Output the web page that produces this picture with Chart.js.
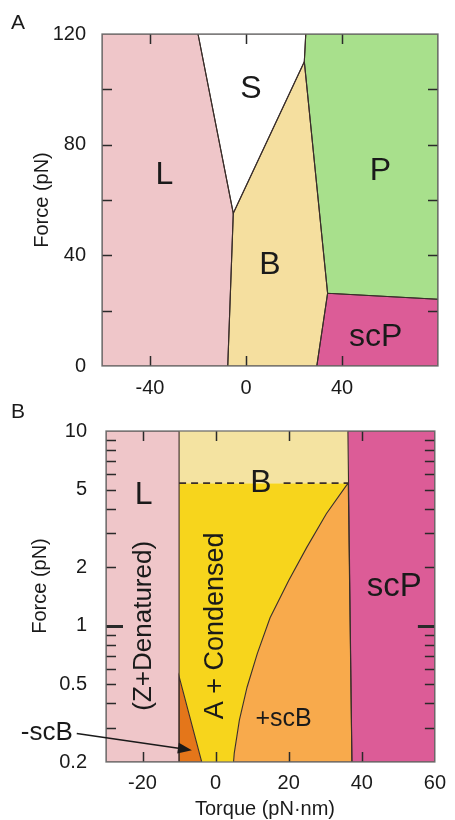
<!DOCTYPE html>
<html>
<head>
<meta charset="utf-8">
<script src="https://cdn.jsdelivr.net/npm/chart.js@4/dist/chart.umd.min.js"></script>
<style>
  html, body { margin: 0; padding: 0; background: #ffffff; }
  #wrap { position: relative; width: 455px; height: 820px; }
  #cA { position: absolute; left: 0; top: 0; }
  #cB { position: absolute; left: 0; top: 400px; }
</style>
</head>
<body>
<div id="wrap">
  <canvas id="cA" width="455" height="400"></canvas>
  <canvas id="cB" width="455" height="420"></canvas>
</div>
<script>
// ---------------- DATA : panel A (Force vs Torque, linear) ----------------
const torqueTicksA = [-40, 0, 40];
const forceTicksA = [0, 40, 80, 120];
const forceMarksA = [20, 40, 60, 80, 100];

const regionA_L   = [[-60, 0], [-60, 120], [-20, 120], [-5.3, 55.2], [-7.6, 0]];
const regionA_S   = [[-20, 120], [24.9, 120], [24.3, 110], [-5.3, 55.2]];
const regionA_B   = [[-7.6, 0], [-5.3, 55.2], [24.3, 110], [34, 26.3], [29.5, 0]];
const regionA_P   = [[24.9, 120], [80, 120], [80, 24.1], [34, 26.3], [24.3, 110]];
const regionA_scP = [[29.5, 0], [34, 26.3], [80, 24.1], [80, 0]];

const labelTextA = ['L', 'S', 'P', 'B', 'scP'];
const labelAtA   = [[-34, 69], [2, 100], [56, 70.5], [10, 36.5], [54, 10.5]];

// ---------------- DATA : panel B (Force vs Torque, log force) ----------------
const torqueTicksB = [-20, 0, 20, 40, 60];
const torqueMarksB = [-20, 0, 20, 40];
const forceTicksB = [0.2, 0.5, 1, 2, 5, 10];
const forceMarksB = [0.3, 0.4, 0.5, 0.6, 0.7, 0.8, 0.9, 1, 2, 3, 4, 5, 6, 7, 8, 9];

const regionB_L      = [[-30, 0.2], [-30, 10], [-10, 10], [-10, 0.2]];
const regionB_B      = [[-10, 5.4], [-10, 10], [36.2, 10], [36.3, 5.4]];
const boundaryPlusScB = [[4.9, 0.2], [5.1, 0.222], [6.5, 0.328], [8.6, 0.484], [11.4, 0.72],
                         [14.9, 1.10], [20.0, 1.71], [24.9, 2.52], [30.3, 3.76], [35.7, 5.23], [36.3, 5.4]];
const regionB_minusScB = [[-10, 0.2], [-10, 0.55], [-3.8, 0.2]];
const regionB_scP    = [[36.2, 10], [60, 10], [60, 0.2], [37.3, 0.2]];
const scPfootB       = [37.3, 0.2];
const dashLeftB      = [[-10, 5.4], [7.8, 5.4]];
const dashRightB     = [[18.6, 5.4], [36.3, 5.4]];

const labelTextB = ['L', 'B', 'scP', '+scB', '(Z+Denatured)', 'A + Condensed', '-scB'];
const labelAtB   = [[-19.7, 4.7], [12.4, 5.4], [48.9, 1.59], [18.6, 0.332], [-19.7, 1.0], [0, 1.0], [-46.2, 0.281]];
const arrowB     = [[-38, 0.28], [-6.5, 0.23]];

// ---------------- helpers ----------------
const FONT = "'Liberation Sans', Arial, Helvetica, sans-serif";
const pts = arr => arr.map(p => ({ x: p[0], y: p[1] }));
const closed = arr => pts(arr.concat([arr[0]]));

function fillSet(arr, color) {
  return { data: closed(arr), showLine: true, fill: 'shape', backgroundColor: color,
           borderWidth: 0, borderColor: 'rgba(0,0,0,0)', pointRadius: 0, order: 5 };
}
function lineSet(arr, close, dash) {
  return { data: close ? closed(arr) : pts(arr), showLine: true, fill: false,
           borderColor: '#3a2e2a', borderWidth: dash ? 1.6 : 1.1, borderDash: dash ? [7, 5] : [],
           pointRadius: 0, order: 1 };
}

const decor = {
  id: 'decor',
  afterDatasetsDraw(chart, args, o) {
    const { ctx, chartArea: a, scales } = chart;
    const x = scales.x, y = scales.y;
    ctx.save();
    // tick marks inside, on all four sides
    ctx.strokeStyle = '#2a2a2a';
    ctx.lineWidth = 1.5;
    o.xMarks.forEach(v => {
      const px = Math.round(x.getPixelForValue(v)) + 0.5;
      ctx.beginPath();
      ctx.moveTo(px, a.bottom); ctx.lineTo(px, a.bottom - 10);
      ctx.moveTo(px, a.top); ctx.lineTo(px, a.top + 10);
      ctx.stroke();
    });
    o.yMarks.forEach(v => {
      const py = Math.round(y.getPixelForValue(v)) + 0.5;
      const bold = o.boldY && v === o.boldY;
      ctx.lineWidth = bold ? 3 : 1.5;
      const len = bold ? 17 : 10;
      ctx.beginPath();
      ctx.moveTo(a.left, py); ctx.lineTo(a.left + len, py);
      ctx.moveTo(a.right, py); ctx.lineTo(a.right - len, py);
      ctx.stroke();
    });
    // frame
    ctx.lineWidth = 1.3;
    ctx.strokeStyle = '#707070';
    ctx.strokeRect(a.left, a.top, a.right - a.left, a.bottom - a.top);

    // arrow
    if (o.arrow) {
      const x0 = x.getPixelForValue(o.arrow[0][0]), y0 = y.getPixelForValue(o.arrow[0][1]);
      const x1 = x.getPixelForValue(o.arrow[1][0]), y1 = y.getPixelForValue(o.arrow[1][1]);
      const ang = Math.atan2(y1 - y0, x1 - x0);
      ctx.strokeStyle = '#1a1a1a'; ctx.fillStyle = '#1a1a1a'; ctx.lineWidth = 1.6;
      ctx.beginPath(); ctx.moveTo(x0, y0);
      ctx.lineTo(x1 - 10 * Math.cos(ang), y1 - 10 * Math.sin(ang)); ctx.stroke();
      ctx.beginPath();
      ctx.moveTo(x1, y1);
      ctx.lineTo(x1 - 14 * Math.cos(ang) + 5.5 * Math.sin(ang), y1 - 14 * Math.sin(ang) - 5.5 * Math.cos(ang));
      ctx.lineTo(x1 - 14 * Math.cos(ang) - 5.5 * Math.sin(ang), y1 - 14 * Math.sin(ang) + 5.5 * Math.cos(ang));
      ctx.closePath(); ctx.fill();
    }

    // region labels
    ctx.fillStyle = '#1a1a1a';
    ctx.textBaseline = 'middle';
    o.texts.forEach((t, i) => {
      const px = x.getPixelForValue(o.at[i][0]);
      const py = y.getPixelForValue(o.at[i][1]);
      const st = o.styles[i];
      ctx.font = st.size + 'px ' + FONT;
      ctx.save();
      ctx.translate(px, py);
      if (st.rot) ctx.rotate(-Math.PI / 2);
      ctx.textAlign = 'center';
      ctx.fillText(t, 0, 0);
      ctx.restore();
    });

    // axis titles and panel letter
    ctx.font = '20px ' + FONT;
    ctx.textAlign = 'center';
    ctx.save();
    ctx.translate(o.yTitleAt[0], o.yTitleAt[1]);
    ctx.rotate(-Math.PI / 2);
    ctx.fillText('Force (pN)', 0, 0);
    ctx.restore();
    if (o.xTitleAt) ctx.fillText('Torque (pN\u00B7nm)', o.xTitleAt[0], o.xTitleAt[1]);
    ctx.font = '21px ' + FONT;
    ctx.fillText(o.panel, o.panelAt[0], o.panelAt[1]);
    ctx.restore();
  }
};

function baseOptions(cfg) {
  return {
    responsive: false, animation: false, devicePixelRatio: 1,
    layout: { padding: { left: 0, top: cfg.top, right: cfg.right, bottom: 0 } },
    plugins: { legend: { display: false }, tooltip: { enabled: false }, decor: cfg.decor },
    scales: {
      x: {
        type: 'linear', min: cfg.xMin, max: cfg.xMax,
        grid: { display: false, drawTicks: false }, border: { display: false },
        afterBuildTicks: s => { s.ticks = cfg.xTicks.map(v => ({ value: v })); },
        afterFit: s => { s.height = cfg.xHeight; },
        ticks: { padding: cfg.xPad, color: '#1a1a1a', font: { size: 20, family: FONT }, maxRotation: 0,
                 callback: v => String(v) }
      },
      y: {
        type: cfg.yType, min: cfg.yMin, max: cfg.yMax,
        grid: { display: false, drawTicks: false }, border: { display: false },
        afterBuildTicks: s => { s.ticks = cfg.yTicks.map(v => ({ value: v })); },
        afterFit: s => { s.width = cfg.yWidth; },
        ticks: { padding: cfg.yPad, color: '#1a1a1a', font: { size: 20, family: FONT },
                 callback: v => String(v) }
      }
    }
  };
}

// ---------------- Panel A ----------------
const dsA = [
  fillSet(regionA_L, '#efc6c9'),
  fillSet(regionA_S, '#ffffff'),
  fillSet(regionA_B, '#f5df9f'),
  fillSet(regionA_P, '#a8e08c'),
  fillSet(regionA_scP, '#dc5c97'),
  lineSet(regionA_L, true), lineSet(regionA_S, true), lineSet(regionA_B, true),
  lineSet(regionA_P, true), lineSet(regionA_scP, true)
];
new Chart(document.getElementById('cA'), {
  type: 'scatter',
  data: { datasets: dsA },
  options: baseOptions({
    top: 34, right: 17, xHeight: 34, yWidth: 102, xPad: 10, yPad: 16,
    xMin: -60, xMax: 80, yMin: 0, yMax: 120, yType: 'linear',
    xTicks: torqueTicksA, yTicks: forceTicksA,
    decor: {
      xMarks: torqueTicksA, yMarks: forceMarksA, boldY: null,
      texts: labelTextA, at: labelAtA,
      styles: labelTextA.map(() => ({ size: 32 })),
      yTitleAt: [42, 200], xTitleAt: null, panel: 'A', panelAt: [18, 23]
    }
  }),
  plugins: [decor]
});

// ---------------- Panel B ----------------
const regionB_Acond = [[-10, 0.55], [-10, 5.4]].concat(boundaryPlusScB.slice().reverse(), [[-3.8, 0.2]]);
const regionB_plusScB = boundaryPlusScB.concat([scPfootB]);
const dsB = [
  fillSet(regionB_L, '#efc6c9'),
  fillSet(regionB_B, '#f4e3a1'),
  fillSet(regionB_Acond, '#f7d51c'),
  fillSet(regionB_plusScB, '#f8aa4c'),
  fillSet(regionB_minusScB, '#e4761a'),
  fillSet(regionB_scP, '#dc5c97'),
  lineSet(regionB_L, true), lineSet(regionB_plusScB, true), lineSet(regionB_minusScB, true),
  lineSet(regionB_scP, true), lineSet(dashLeftB, false, true), lineSet(dashRightB, false, true)
];
new Chart(document.getElementById('cB'), {
  type: 'scatter',
  data: { datasets: dsB },
  options: baseOptions({
    top: 30, right: 15, xHeight: 58, yWidth: 106, xPad: 9, yPad: 19,
    xMin: -30, xMax: 60, yMin: 0.2, yMax: 10, yType: 'logarithmic',
    xTicks: torqueTicksB, yTicks: forceTicksB,
    decor: {
      xMarks: torqueMarksB, yMarks: forceMarksB, boldY: 1,
      texts: labelTextB, at: labelAtB,
      styles: [{ size: 32 }, { size: 32 }, { size: 33 }, { size: 25 }, { size: 26, rot: true }, { size: 27, rot: true }, { size: 26 }],
      arrow: arrowB,
      yTitleAt: [40, 186], xTitleAt: [265, 409], panel: 'B', panelAt: [18, 12]
    }
  }),
  plugins: [decor]
});
</script>
</body>
</html>
